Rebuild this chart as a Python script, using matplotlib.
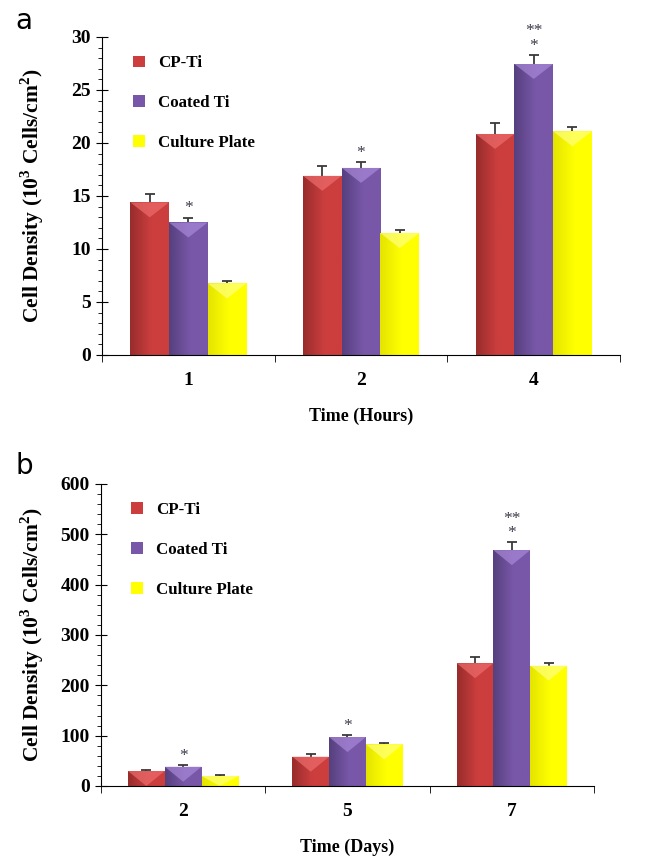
import numpy as np
import matplotlib
matplotlib.use('Agg')
import matplotlib.pyplot as plt
import matplotlib.transforms as mtransforms
from matplotlib.colors import to_rgb
from matplotlib.patches import Polygon

# ---- data ----
series = ['CP-Ti', 'Coated Ti', 'Culture Plate']

hours = ['1', '2', '4']
a_cp = [14.4, 16.9, 20.85]
a_cp_err = [0.8, 0.9, 1.05]
a_coated = [12.5, 17.65, 27.45]
a_coated_err = [0.45, 0.55, 0.85]
a_plate = [6.75, 11.5, 21.1]
a_plate_err = [0.25, 0.3, 0.4]
a_sig = ['*', '*', '**\n*']

days = ['2', '5', '7']
b_cp = [29.7, 58.2, 243.9]
b_cp_err = [2.0, 4.6, 12.0]
b_coated = [38.3, 97.2, 468.6]
b_coated_err = [2.7, 3.3, 15.2]
b_plate = [19.8, 82.6, 239.3]
b_plate_err = [2.0, 2.0, 5.2]
b_sig = ['*', '*', '**\n*']

base_cols = ['#cc3e3e', '#7857a8', '#ffff00']
dark_cols = ['#982c2c', '#56407e', '#e4e400']
light_cols = ['#ee6c6c', '#a888d8', '#ffff80']

plt.rcParams['font.family'] = ['Liberation Serif', 'DejaVu Serif']
plt.rcParams['font.weight'] = 'bold'
plt.rcParams['mathtext.fontset'] = 'custom'
plt.rcParams['mathtext.rm'] = 'Liberation Serif:bold'
plt.rcParams['mathtext.bf'] = 'Liberation Serif:bold'

fig = plt.figure(figsize=(6.57, 8.56), dpi=100)


def shade_bar(ax, patch, i):
    # horizontal gradient, dark on the left, plus a lighter bevel on top
    x0, y0 = patch.get_x(), patch.get_y()
    w, h = patch.get_width(), patch.get_height()
    d = np.array(to_rgb(dark_cols[i]))
    b = np.array(to_rgb(base_cols[i]))
    t = np.clip(np.linspace(0, 1, 60) / 0.55, 0, 1)[None, :, None]
    img = d * (1 - t) + b * t
    im = ax.imshow(np.repeat(img, 2, axis=0), extent=(x0, x0 + w, y0, y0 + h),
                   aspect='auto', zorder=2, interpolation='bilinear')
    im.set_clip_path(patch)
    ylo, yhi = ax.get_ylim()
    depth = 15 * (yhi - ylo) / (ax.get_window_extent().height)
    depth = min(depth, h)
    tri = Polygon([(x0, y0 + h), (x0 + w, y0 + h), (x0 + w / 2, y0 + h - depth)],
                  closed=True, facecolor=light_cols[i], edgecolor='none',
                  alpha=0.7, zorder=2.5)
    ax.add_patch(tri)


def panel(rect, cats, vals, errs, sigs, ymax, major, minor, xlabel, letter, lety):
    ax = fig.add_axes(rect)
    x = np.arange(len(cats))
    bw = 0.224
    ax.set_xlim(-0.5, len(cats) - 0.5)
    ax.set_ylim(0, ymax)
    for i, (v, e) in enumerate(zip(vals, errs)):
        pos = x + (i - 1) * bw
        bars = ax.bar(pos, v, bw, color=base_cols[i], edgecolor='none',
                      label=series[i], zorder=1)
        for p in bars:
            shade_bar(ax, p, i)
        # whiskers sit behind the bars so only the upper half shows
        ax.errorbar(pos, v, yerr=e, fmt='none',
                    ecolor='#3a3a3a', elinewidth=1.3, capsize=3.5,
                    capthick=1.3, zorder=0.5)
    top = np.array(vals[1]) + np.array(errs[1])
    for xi, yi, s in zip(x, top, sigs):
        ax.annotate(s, (xi, yi), xytext=(0, 1), textcoords='offset points',
                    ha='center', va='bottom', fontsize=12.5, color='#3c3c4c',
                    linespacing=0.85, fontweight='normal')

    ax.spines['top'].set_visible(False)
    ax.spines['right'].set_visible(False)
    ax.set_yticks(np.arange(0, ymax + 0.1, major))
    ax.set_yticks(np.arange(0, ymax + 0.1, minor), minor=True)
    ax.set_xticks(x)
    ax.set_xticklabels(cats)
    ax.set_xticks(np.arange(len(cats) + 1) - 0.5, minor=True)
    ax.tick_params(axis='x', which='major', length=0, pad=12, labelsize=14)
    ax.tick_params(axis='x', which='minor', length=5, direction='out')
    ax.tick_params(axis='y', which='major', length=8, direction='inout',
                   labelsize=14, pad=4)
    ax.tick_params(axis='y', which='minor', length=3, direction='out')
    ax.set_xlabel(xlabel, fontsize=13, fontweight='bold', labelpad=14)
    ax.set_ylabel(r'Cell Density (10$^{3}$ Cells/cm$^{2}$)', fontsize=15.5,
                  fontweight='bold')
    ax.yaxis.set_label_coords(
        46 / 657, 0.5,
        transform=mtransforms.blended_transform_factory(fig.transFigure, ax.transAxes))

    leg = ax.legend(loc='upper left', bbox_to_anchor=(0.03, 0.99), frameon=False,
                    fontsize=12.2, handlelength=0.7, handleheight=0.7,
                    handletextpad=0.8, labelspacing=1.4)
    for t in leg.get_texts():
        t.set_fontweight('bold')
    fig.text(0.024, lety, letter, fontsize=20, family='DejaVu Sans',
             fontweight='normal', va='center', ha='left')
    return ax


panel([0.1553, 0.5853, 0.7884, 0.3715], hours,
      [a_cp, a_coated, a_plate], [a_cp_err, a_coated_err, a_plate_err],
      a_sig, 30, 5, 1, 'Time (Hours)', 'a', 1 - 21 / 856)
panel([0.1537, 0.0818, 0.7504, 0.3528], days,
      [b_cp, b_coated, b_plate], [b_cp_err, b_coated_err, b_plate_err],
      b_sig, 600, 100, 20, 'Time (Days)', 'b', 1 - 466 / 856)

fig.savefig('out.png', dpi=100)
